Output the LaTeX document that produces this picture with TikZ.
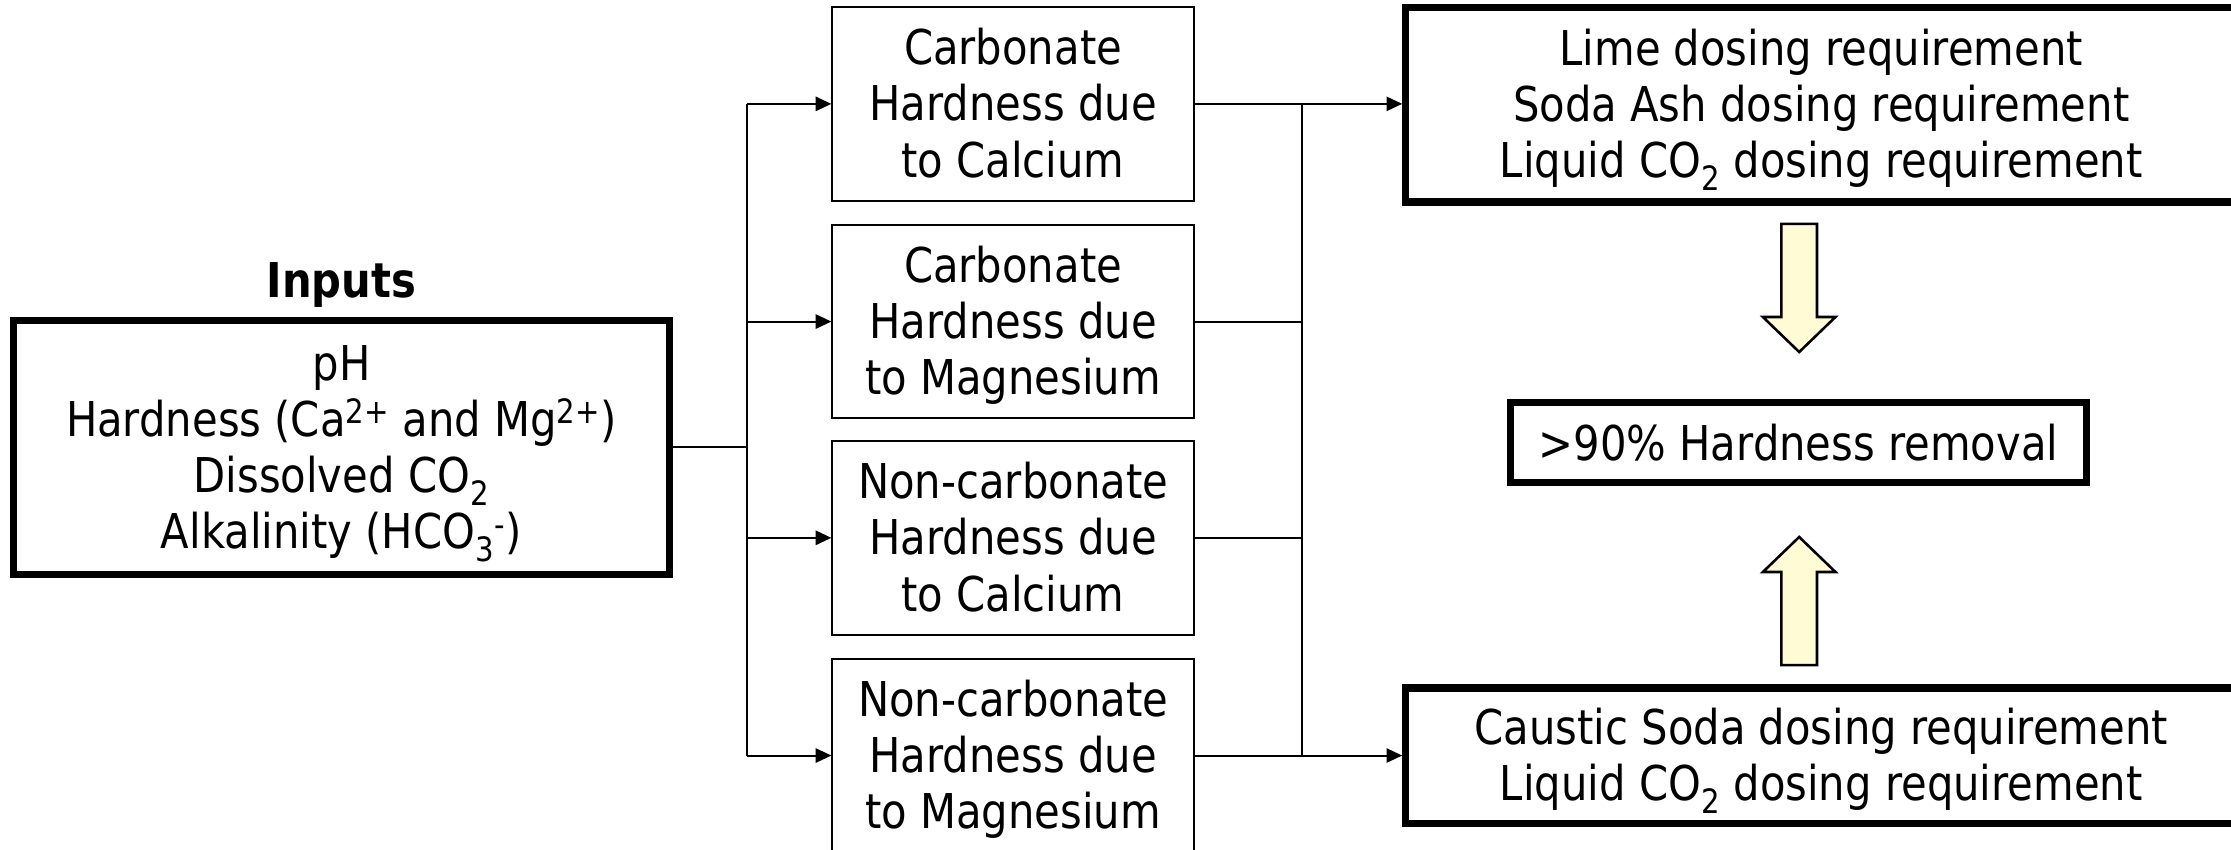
\documentclass[tikz,border=0pt]{standalone}
\usepackage{fontspec}
\setmainfont{DejaVu Sans}[FakeStretch=0.87]
\usetikzlibrary{arrows.meta}
\definecolor{paleyellow}{HTML}{FFFBD5}
\newcommand\upstrut{\rule{0pt}{34pt}}
\newcommand\downstrut{\rule[-10pt]{0pt}{0pt}}

\tikzset{
  thinbox/.style={draw, line width=1.4pt, inner sep=0pt, minimum width=254pt, minimum height=136pt, align=center},
  thickbox/.style={draw, line width=5pt, inner sep=0pt, align=center},
  conn/.style={line width=1.4pt},
  arr/.style={conn, -{Triangle[length=11pt,width=10pt]}},
  blockarrow/.style={draw, line width=1.8pt, fill=paleyellow, line join=miter},
}

\begin{document}
\begin{tikzpicture}[x=1pt, y=-1pt, every node/.style={font=\fontsize{33.7pt}{39.5pt}\selectfont}]
		%%%%% FRAME %%%%%
		\useasboundingbox (0,0) rectangle (1568,597);
		\clip (0,0) rectangle (1568,597);
		
		%%%%% INPUTS %%%%%
		\node[thickbox, minimum width=461pt, minimum height=179pt] (inputs) at (240,314.5) {\upstrut pH\\Hardness (Ca\textsuperscript{2+} and Mg\textsuperscript{2+})\\Dissolved CO\textsubscript{2}\\Alkalinity (HCO\textsubscript{3}\textsuperscript{-})\downstrut};
		\node[font=\fontsize{33.7pt}{39.5pt}\selectfont\bfseries] (title) at (240,200) {Inputs};
		
		%%%%% HARDNESS TYPES %%%%%
		\node[thinbox] (cc) at (712,73) {\upstrut Carbonate\\Hardness due\\to Calcium\downstrut};
		\node[thinbox] (cm) at (712,226) {\upstrut Carbonate\\Hardness due\\to Magnesium\downstrut};
		\node[thinbox] (nc) at (712,378) {\upstrut Non-carbonate\\Hardness due\\to Calcium\downstrut};
		\node[thinbox] (nm) at (712,531) {\upstrut Non-carbonate\\Hardness due\\to Magnesium\downstrut};
		
		%%%%% DOSING %%%%%
		\node[thickbox, minimum width=584pt, minimum height=137pt] (lime) at (1280,73.5) {\upstrut Lime dosing requirement\\Soda Ash dosing requirement\\Liquid CO\textsubscript{2} dosing requirement\downstrut};
		\node[thickbox, minimum width=405pt, minimum height=56pt] (removal) at (1264,311) {>90\% Hardness removal};
		\node[thickbox, minimum width=584pt, minimum height=95pt] (caustic) at (1280,531) {\upstrut Caustic Soda dosing requirement\\Liquid CO\textsubscript{2} dosing requirement\downstrut};
		
		%%%%% CONNECTORS %%%%%
		\coordinate (splitL) at (525,314.5);
		\coordinate (joinR) at (915,314.5);
		\draw[conn] (inputs.east) -- (splitL);
		\draw[conn] (splitL |- cc.west) -- (splitL |- nm.west);
		\foreach \b in {cc,cm,nc,nm}
			\draw[arr] (splitL |- \b.west) -- (\b.west);
		\foreach \b in {cm,nc}
			\draw[conn] (\b.east) -- (joinR |- \b.east);
		\draw[conn] (joinR |- cc.east) -- (joinR |- nm.east);
		\draw[arr] (cc.east) -- (lime.west |- cc.east);
		\draw[arr] (nm.east) -- (caustic.west |- nm.east);
		
		%%%%% BLOCK ARROWS %%%%%
		\draw[blockarrow] (1252,157.4) -- (1277,157.4) -- (1277,222.8) -- (1290,222.8) -- (1264.5,247.4) -- (1239,222.8) -- (1252,222.8) -- cycle;
		\draw[blockarrow] (1252,467.4) -- (1277,467.4) -- (1277,402) -- (1290,402) -- (1264.5,377.4) -- (1239,402) -- (1252,402) -- cycle;
		
		%%%%% END %%%%%
	\end{tikzpicture}
\end{document}
